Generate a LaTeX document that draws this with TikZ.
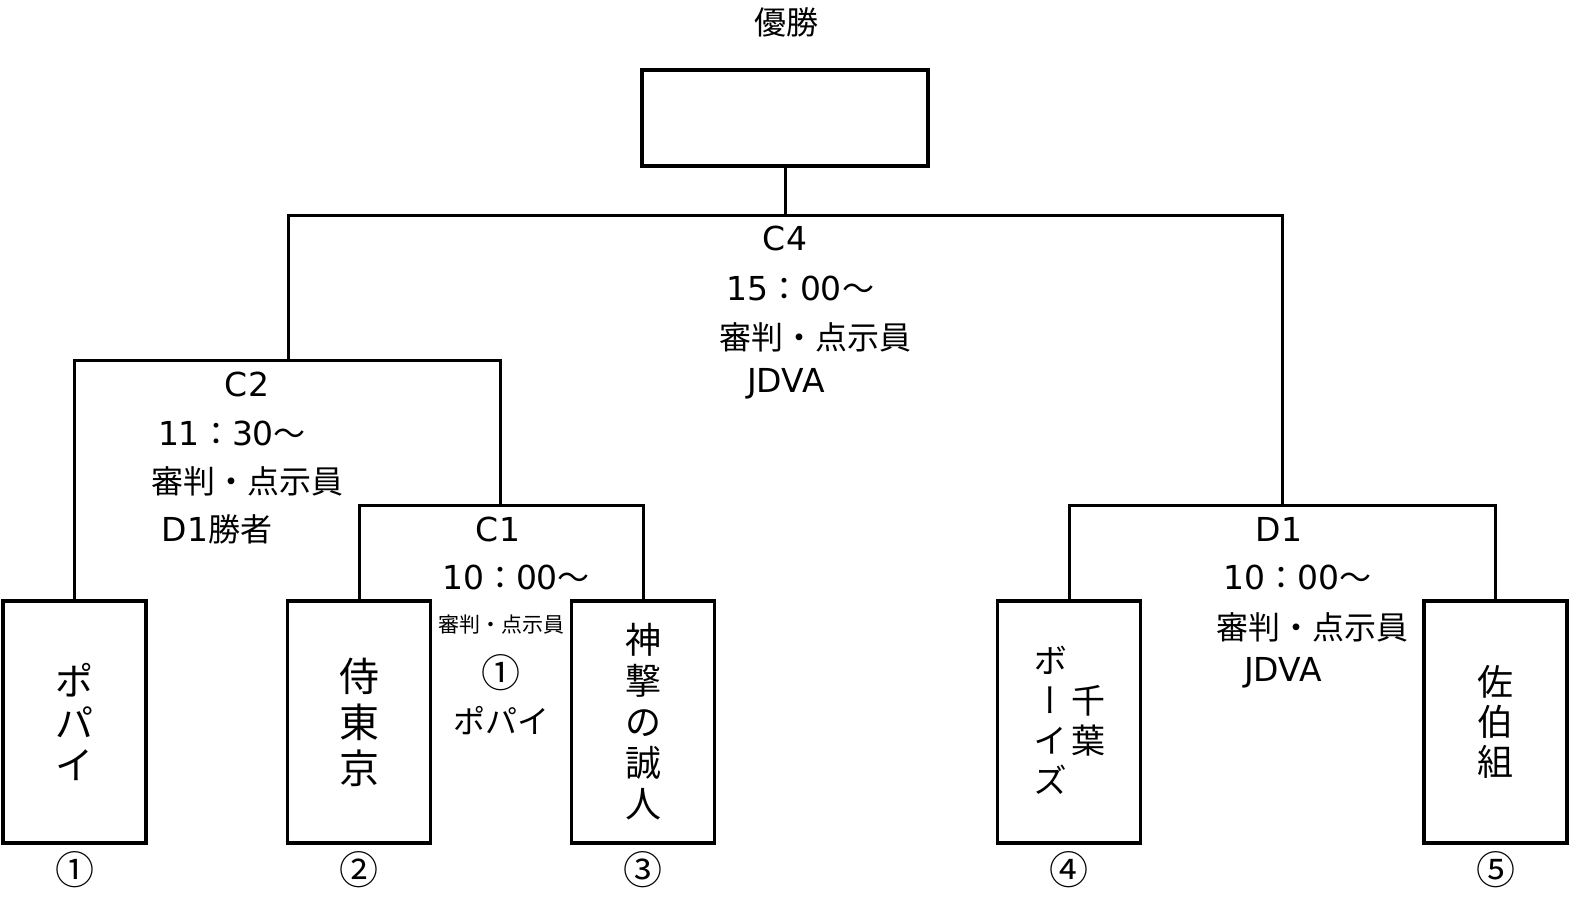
\documentclass[tikz,border=0pt]{standalone}
\usepackage{fontspec}
\setmainfont{Noto Sans CJK JP}
\newfontfamily\tatefont[RawFeature=+vert]{Noto Sans CJK JP}
\newfontfamily\latfont{DejaVu Sans}
\newcommand\la[1]{{\latfont\fontsize{16.5}{18}\selectfont #1}}
\usetikzlibrary{positioning}
\begin{document}
\begin{tikzpicture}[x=0.5pt,y=-0.5pt,
    team/.style={draw,line width=1.6pt,minimum width=71.5pt,minimum height=121pt,inner sep=0pt,align=center},
    lbl/.style={inner sep=0pt,font=\fontsize{16}{18}\selectfont},
    smalllbl/.style={inner sep=0pt,font=\fontsize{10.5}{12}\selectfont},
    num/.style={inner sep=0pt,font=\fontsize{19.5}{20}\selectfont},
    bracket/.style={line width=1.5pt}]
  \useasboundingbox (0,0) rectangle (1585,901);
  % winner box
  \node (win) [draw,line width=1.6pt,minimum width=143pt,minimum height=48pt] at (785,118) {};
  \node (wintitle) [lbl] at (786,22) {優勝};
  % teams
  \node (popai) [team,font=\fontsize{19}{21}\selectfont] at (74.5,722) {ポ\\パ\\イ};
  \node (samurai) [team,font=\fontsize{20}{23}\selectfont] at (359,722) {侍\\東\\京};
  \node (shingeki) [team,font=\fontsize{18}{20.5}\selectfont] at (643,722) {神\\撃\\の\\誠\\人};
  \node (boys) [team] at (1069,722) {};
  \node (boysA) [inner sep=0pt,align=center,font=\tatefont\fontsize{17}{20}\selectfont] at (1050,720) {ボ\\ー\\イ\\ズ};
  \node (boysB) [inner sep=0pt,align=center,font=\fontsize{17}{20}\selectfont] at (1088,721) {千\\葉};
  \node (saeki) [team,font=\fontsize{18}{20}\selectfont] at (1495.5,722) {佐\\伯\\組};
  \foreach \t/\n in {popai/①,samurai/②,shingeki/③,boys/④,saeki/⑤}
    \node (n\t) [num,below=3pt of \t] {\n};
  % bracket joints
  \coordinate (c1) at (500,505);
  \coordinate (c2) at (288,360);
  \coordinate (d1) at (1282,505);
  \coordinate (c4) at (785,215);
  \draw[bracket] (samurai.north) |- (c1) -| (shingeki.north);
  \draw[bracket] (popai.north) |- (c2) -| (c1);
  \draw[bracket] (boys.north) |- (d1) -| (saeki.north);
  \draw[bracket] (c2) |- (c4) -| (d1);
  \draw[bracket] (win.south) -- (c4);
  % match labels
  \node (c4name) [lbl] at (785,238) {\la{C4}};
  \node (c4time) [lbl] at (800,288) {\la{15}：\la{00}～};
  \node (c4ref) [lbl] at (815,337) {審判・点示員};
  \node (c4team) [lbl] at (786,384) {\la{JDVA}};
  \node (c2name) [lbl] at (247,384) {\la{C2}};
  \node (c2time) [lbl] at (232,433) {\la{11}：\la{30}～};
  \node (c2ref) [lbl] at (247,481) {審判・点示員};
  \node (c2team) [lbl] at (217,529) {\la{D1}勝者};
  \node (c1name) [lbl] at (498,529) {\la{C1}};
  \node (c1time) [lbl] at (516,577) {\la{10}：\la{00}～};
  \node (c1ref) [smalllbl] at (501,625) {審判・点示員};
  \node (c1num) [num] at (501,673) {①};
  \node (c1team) [lbl] at (501,721) {ポパイ};
  \node (d1name) [lbl] at (1279,529) {\la{D1}};
  \node (d1time) [lbl] at (1297,577) {\la{10}：\la{00}～};
  \node (d1ref) [lbl] at (1312,627) {審判・点示員};
  \node (d1team) [lbl] at (1283,673) {\la{JDVA}};
\end{tikzpicture}
\end{document}
